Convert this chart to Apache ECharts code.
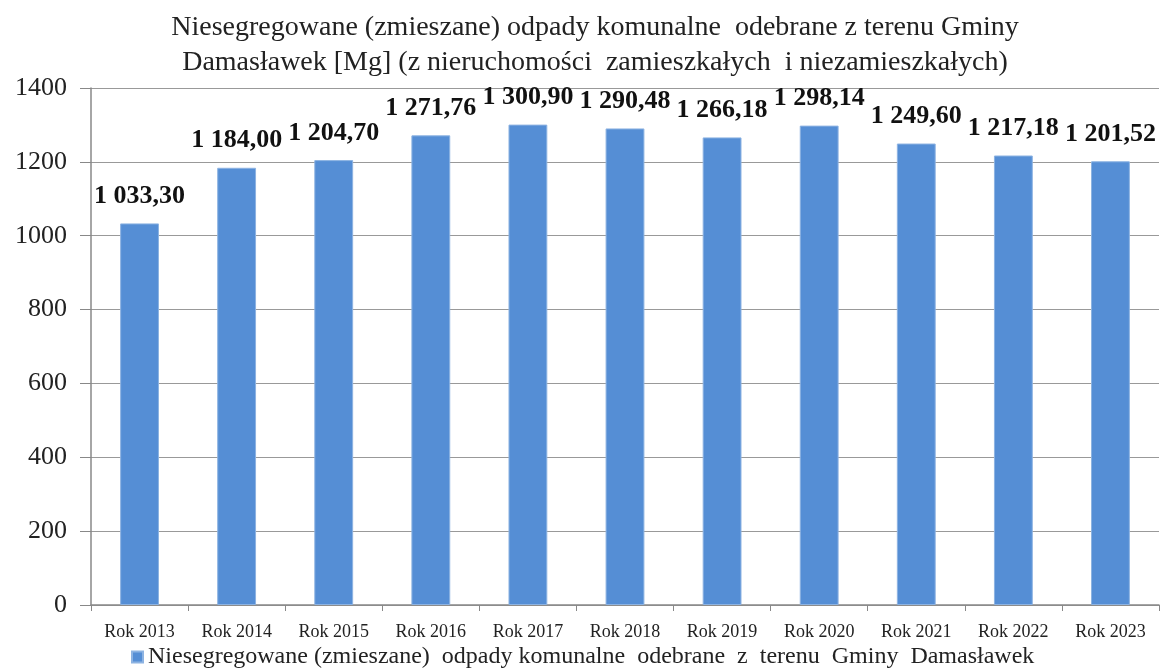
<!DOCTYPE html>
<html><head><meta charset="utf-8">
<script src="https://cdn.jsdelivr.net/npm/echarts@6/dist/echarts.min.js"></script>
<style>html,body{margin:0;padding:0;background:#fff}#c{width:1167px;height:668px}</style>
</head><body><div id="c"></div>
<script>
const categories = ['Rok 2013','Rok 2014','Rok 2015','Rok 2016','Rok 2017','Rok 2018','Rok 2019','Rok 2020','Rok 2021','Rok 2022','Rok 2023'];
const values = [1033.30, 1184.00, 1204.70, 1271.76, 1300.90, 1290.48, 1266.18, 1298.14, 1249.60, 1217.18, 1201.52];
const yTicks = [0, 200, 400, 600, 800, 1000, 1200, 1400];
const titleText = 'Niesegregowane (zmieszane) odpady komunalne  odebrane z terenu Gminy\nDamasławek [Mg] (z nieruchomości  zamieszkałych  i niezamieszkałych)';
const seriesName = 'Niesegregowane (zmieszane)  odpady komunalne  odebrane  z  terenu  Gminy  Damasławek';

function fmt(v){
  const s = v.toFixed(2).split('.');
  const i = s[0].replace(/\B(?=(\d{3})+(?!\d))/g, ' ');
  return i + ',' + s[1];
}
const serif = '"Liberation Serif","DejaVu Serif",serif';
const chart = echarts.init(document.getElementById('c'));
chart.setOption({
  animation:false,
  title:{text:titleText,left:590,textAlign:'center',top:5,
    textStyle:{fontFamily:serif,fontSize:28,fontWeight:'normal',color:'#222',lineHeight:35}},
  grid:{left:91,right:8,top:88,bottom:63,containLabel:false},
  legend:{bottom:-6,left:126,itemWidth:11,itemHeight:11,icon:'rect',itemGap:4,
    textStyle:{fontFamily:serif,fontSize:24,color:'#222'}},
  xAxis:{type:'category',data:categories,
    axisLine:{lineStyle:{color:'#888',width:1.5}},
    axisTick:{show:true,length:6,lineStyle:{color:'#888'}},
    axisLabel:{fontFamily:serif,fontSize:18,color:'#222',margin:18,interval:0}},
  yAxis:{type:'value',min:0,max:1400,interval:200,
    axisLine:{show:true,lineStyle:{color:'#888',width:1.5}},
    axisTick:{show:true,length:11,lineStyle:{color:'#888'}},
    splitLine:{lineStyle:{color:'#999',width:1.2}},
    axisLabel:{fontFamily:serif,fontSize:26,color:'#222',margin:24,
      formatter:v=>yTicks.includes(v)?String(v):''}},
  series:[{type:'bar',name:seriesName,data:values,barWidth:'40%',
    itemStyle:{color:'#558ED5',borderColor:'#8DB3E2',borderWidth:1},
    label:{show:true,position:'top',distance:14,formatter:p=>fmt(p.value),
      fontFamily:serif,fontSize:26,fontWeight:'bold',color:'#111'}}]
});
</script></body></html>
